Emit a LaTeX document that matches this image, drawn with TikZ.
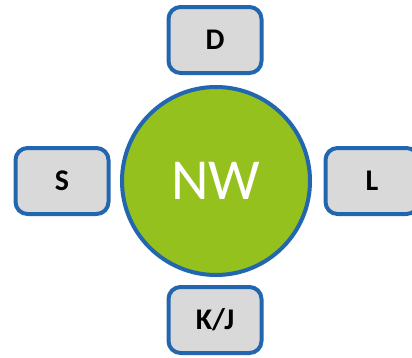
\documentclass[tikz,border=0pt]{standalone}
\usepackage{fontspec}
\setmainfont{Carlito}
\definecolor{rim}{RGB}{33,102,174}
\definecolor{boxfill}{RGB}{217,217,217}
\definecolor{hub}{RGB}{149,193,31}
\tikzset{
  x=1pt, y=-1pt,
  leaf/.style={draw=rim, line width=4pt, fill=boxfill, rounded corners=12pt,
    minimum width=93pt, minimum height=66pt, inner sep=0pt,
    font=\fontsize{30}{30}\selectfont\bfseries},
  centre/.style={circle, draw=rim, line width=4pt, fill=hub, minimum size=188pt,
    inner sep=0pt, text=white, font=\fontsize{58}{58}\selectfont}
}
\begin{document}
\begin{tikzpicture}
\useasboundingbox (0,0) rectangle (412,357);
\clip (0,0) rectangle (412,357);
\node[centre] (nw) at (216,181) {NW};
\node[leaf] (d) at (215,40) {D};
\node[leaf] (s) at (62,181) {S};
\node[leaf] (l) at (372,181) {L};
\node[leaf] (kj) at (215,320) {K/J};
\end{tikzpicture}
\end{document}
